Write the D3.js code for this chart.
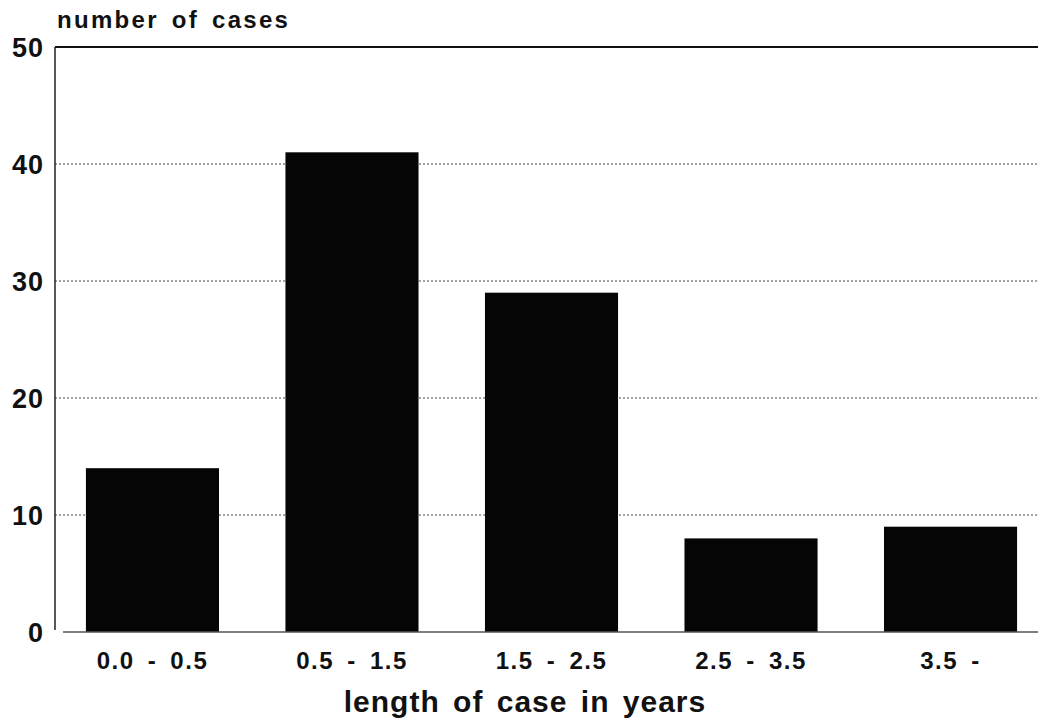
<!DOCTYPE html>
<html>
<head>
<meta charset="utf-8">
<script src="https://cdn.jsdelivr.net/npm/d3@7"></script>
<style>
  body { margin: 0; background: #fff; }
  text { font-family: "Liberation Sans", Arial, sans-serif; font-weight: bold; fill: #111; }
</style>
</head>
<body>
<svg id="chart" width="1038" height="723"></svg>
<script>
// data
var categories = ["0.0 - 0.5", "0.5 - 1.5", "1.5 - 2.5", "2.5 - 3.5", "3.5 -"];
var cases = [14, 41, 29, 8, 9];
var yTicks = [0, 10, 20, 30, 40, 50];

var svg = d3.select("#chart");
var plotLeft = 55, plotTop = 47, plotBottom = 632, plotRight = 1038;

var x = d3.scaleBand()
  .domain(categories)
  .range([plotLeft, 1048])
  .paddingInner(0.333)
  .paddingOuter(0.155);

var y = d3.scaleLinear()
  .domain([0, 50])
  .range([plotBottom, plotTop]);

// dotted gridlines
svg.append("g").selectAll("line")
  .data(yTicks.filter(function(d){ return d > 0 && d < 50; }))
  .enter().append("line")
  .attr("x1", plotLeft).attr("x2", plotRight)
  .attr("y1", function(d){ return y(d); })
  .attr("y2", function(d){ return y(d); })
  .style("stroke", "#444")
  .style("stroke-width", 1)
  .style("stroke-dasharray", "2,2");

// top frame line
svg.append("line")
  .attr("x1", plotLeft).attr("x2", plotRight)
  .attr("y1", y(50)).attr("y2", y(50))
  .style("stroke", "#111").style("stroke-width", 2);

// bars
svg.append("g").selectAll("rect")
  .data(cases)
  .enter().append("rect")
  .attr("x", function(d, i){ return x(categories[i]); })
  .attr("width", x.bandwidth())
  .attr("y", function(d){ return y(d); })
  .attr("height", function(d){ return y(0) - y(d); })
  .style("fill", "#050505");

// baseline
svg.append("line")
  .attr("x1", plotLeft + 8).attr("x2", plotRight)
  .attr("y1", y(0)).attr("y2", y(0))
  .style("stroke", "#555").style("stroke-width", 1.5);

// left axis line
svg.append("line")
  .attr("x1", plotLeft).attr("x2", plotLeft)
  .attr("y1", y(50)).attr("y2", y(0) - 2)
  .style("stroke", "#222").style("stroke-width", 1.5);

// y tick labels
svg.append("g").selectAll("text")
  .data(yTicks)
  .enter().append("text")
  .attr("x", 44)
  .attr("y", function(d){ return y(d) + 10; })
  .attr("text-anchor", "end")
  .style("font-size", "27px")
  .style("letter-spacing", "1px")
  .text(function(d){ return d; });

// x tick labels
svg.append("g").selectAll("text")
  .data(categories)
  .enter().append("text")
  .attr("x", function(d){ return x(d) + x.bandwidth() / 2; })
  .attr("y", 669)
  .attr("text-anchor", "middle")
  .style("font-size", "24px")
  .style("letter-spacing", "1.5px")
  .style("word-spacing", "5px")
  .text(function(d){ return d; });

// axis titles
svg.append("text")
  .attr("x", 57).attr("y", 28)
  .style("font-size", "24px")
  .style("letter-spacing", "2.3px")
  .style("word-spacing", "4px")
  .text("number of cases");

svg.append("text")
  .attr("x", 525).attr("y", 712)
  .attr("text-anchor", "middle")
  .style("font-size", "30px")
  .style("letter-spacing", "1px")
  .style("word-spacing", "4px")
  .text("length of case in years");
</script>
</body>
</html>
